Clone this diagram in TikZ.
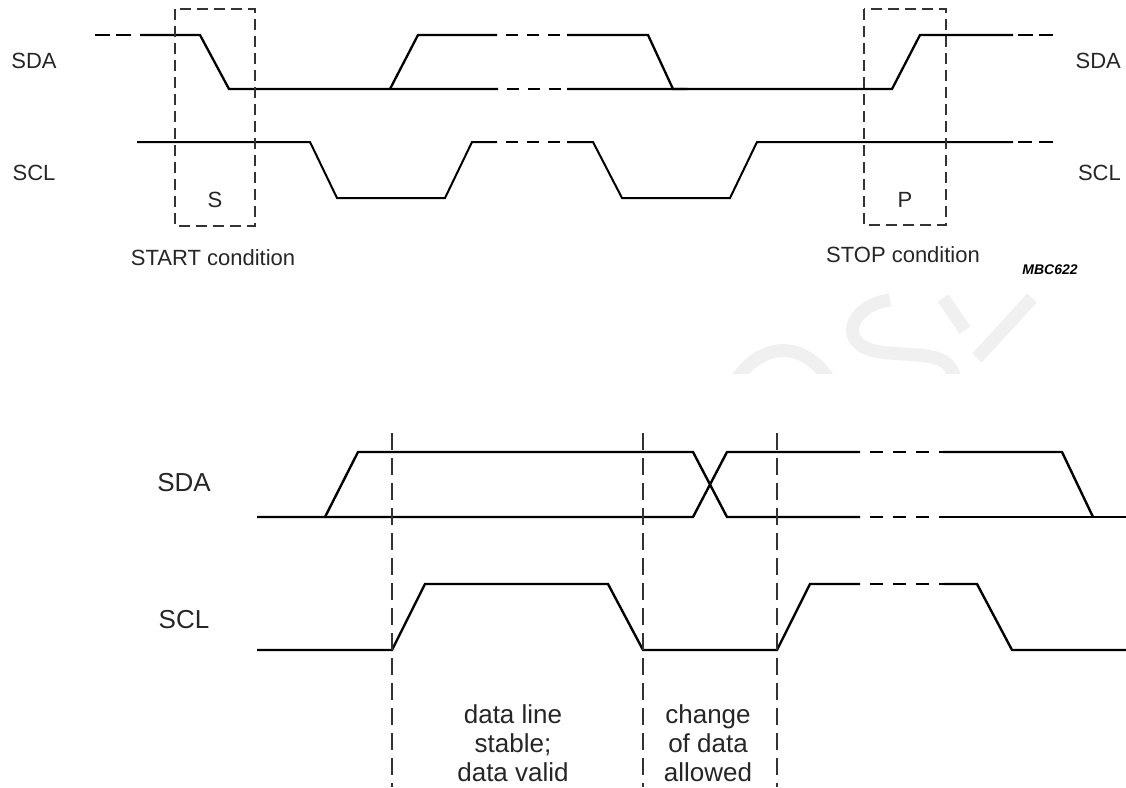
\documentclass[tikz,border=0pt]{standalone}
\usepackage{fontspec}
\setmainfont{Liberation Sans}
\begin{document}
\begin{tikzpicture}[x=1pt,y=-1pt,
  sig/.style={line width=2.3pt,line join=miter},
  sigthin/.style={line width=2.0pt,line join=miter},
  sigdash/.style={line width=2.3pt,dash pattern=on 12pt off 9pt,dash phase=12pt},
  sigthindash/.style={line width=2.0pt,dash pattern=on 12pt off 9pt,dash phase=12pt},
  enddash/.style={line width=2.6pt,dash pattern=on 15pt off 6pt},
  botsig/.style={line width=2.4pt,line join=miter},
  botdash/.style={line width=2.4pt,dash pattern=on 13pt off 10pt,dash phase=13pt},
  condbox/.style={line width=1.1pt,dash pattern=on 11pt off 6pt,black!80},
  vguide/.style={line width=1.4pt,dash pattern=on 17pt off 8pt,black!80},
  lbl/.style={inner sep=0pt,text=black!85,font=\fontsize{22}{26}\selectfont},
  biglbl/.style={inner sep=0pt,text=black!85,font=\fontsize{26}{30}\selectfont},
  note/.style={inner sep=0pt,text=black!85,align=center,font=\fontsize{26}{29}\selectfont},
  wm/.style={line width=13pt,black!6,line cap=butt}
]
\useasboundingbox (0,0) rectangle (1126,787);
\fill[white] (0,0) rectangle (1126,787);

% faint watermark
\begin{scope}
\clip (700,292) rectangle (1126,373);
\draw[wm] (890,300) .. controls (850,305) and (835,345) .. (880,352)
          .. controls (920,357) and (950,350) .. (955,380);
\draw[wm] (730,390) .. controls (760,335) and (810,340) .. (835,390);
\draw[wm] (1032,298) -- (977,358);
\draw[wm] (943,298) -- (965,330);
\end{scope}

% ---------------- top diagram ----------------
% SDA
\draw[enddash] (95,35) -- (131,35);
\draw[sig] (140,35) -- (200,35) -- (229,89) -- (498,89);
\draw[sigdash] (498,89) -- (567,89);
\draw[sig] (567,89) -- (892,89) -- (920,35) -- (1013,35);
\draw[enddash] (1018,35) -- (1053,35);
\draw[sig] (390,89) -- (418,35) -- (497,35);
\draw[sigdash] (497,35) -- (567,35);
\draw[sig] (567,35) -- (648,35) -- (673,89) -- (687,89);
% SCL
\draw[sigthin] (137,142) -- (310,142) -- (337,198) -- (445,198) -- (472,142) -- (497,142);
\draw[sigthindash] (497,142) -- (567,142);
\draw[sigthin] (567,142) -- (593,142) -- (622,198) -- (730,198) -- (757,142) -- (1013,142);
\draw[sigthin,dash pattern=on 14pt off 7pt] (1018,142) -- (1053,142);
% condition boxes
\draw[condbox] (175,9) rectangle (255,226);
\draw[condbox] (864,9) rectangle (946,225);
% labels
\node[lbl] (tsdaL) at (34,61) {SDA};
\node[lbl] (tsclL) at (34,173) {SCL};
\node[lbl,anchor=east] (tsdaR) at (1121,61) {SDA};
\node[lbl,anchor=east] (tsclR) at (1121,173) {SCL};
\node[lbl] (sS) at (215,200) {S};
\node[lbl] (sP) at (905,200) {P};
\node[lbl] (startc) at (213,258) {START condition};
\node[lbl] (stopc) at (903,255) {STOP condition};
\node[inner sep=0pt,font=\fontsize{14}{16}\selectfont\bfseries\itshape] (code) at (1050,270) {MBC622};

% ---------------- bottom diagram ----------------
% SDA
\draw[botsig] (257,517) -- (325,517) -- (358,452) -- (693,452) -- (727,517) -- (860,517);
\draw[botdash] (860,517) -- (943,517);
\draw[botsig] (943,517) -- (1126,517);
\draw[botsig] (325,517) -- (693,517) -- (727,452) -- (860,452);
\draw[botdash] (860,452) -- (943,452);
\draw[botsig] (943,452) -- (1062,452) -- (1093,517);
% SCL
\draw[botsig] (257,650) -- (392,650) -- (425,584) -- (608,584) -- (643,650) -- (777,650) -- (810,584) -- (860,584);
\draw[botdash] (860,584) -- (943,584);
\draw[botsig] (943,584) -- (977,584) -- (1012,650) -- (1126,650);
% guides
\draw[vguide] (392,433) -- (392,787);
\draw[vguide] (643,433) -- (643,787);
\draw[vguide] (777,433) -- (777,787);
% labels
\node[biglbl] (bsda) at (184,483) {SDA};
\node[biglbl] (bscl) at (184,620) {SCL};
\node[note] (stable) at (513,743) {data line\\stable;\\data valid};
\node[note] (change) at (708,743) {change\\of data\\allowed};
\end{tikzpicture}
\end{document}
